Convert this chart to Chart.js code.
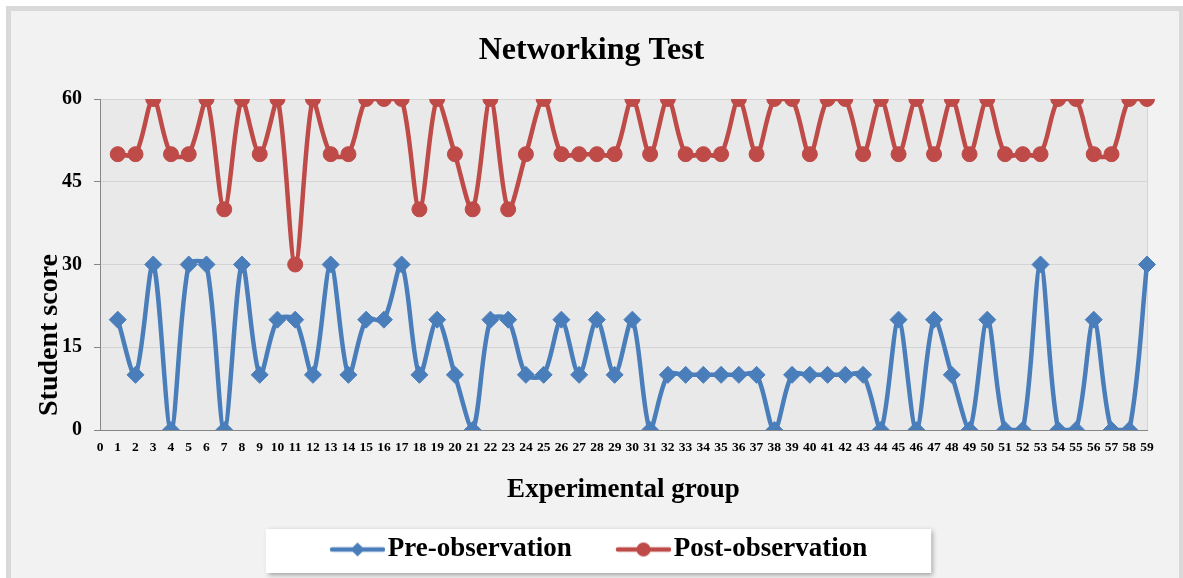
<!DOCTYPE html>
<html>
<head>
<meta charset="utf-8">
<script src="https://cdn.jsdelivr.net/npm/chart.js@4/dist/chart.umd.min.js"></script>
<style>
  html, body { margin: 0; padding: 0; background: #ffffff; }
  #wrap { width: 1183px; height: 578px; }
</style>
</head>
<body>
<div id="wrap"><canvas id="chart" width="1183" height="578"></canvas></div>
<script>
// Networking Test - pre / post observation scores per student

const categories = ['0', '1', '2', '3', '4', '5', '6', '7', '8', '9', '10', '11', '12', '13', '14',
    '15', '16', '17', '18', '19', '20', '21', '22', '23', '24', '25', '26', '27', '28', '29',
    '30', '31', '32', '33', '34', '35', '36', '37', '38', '39', '40', '41', '42', '43', '44',
    '45', '46', '47', '48', '49', '50', '51', '52', '53', '54', '55', '56', '57', '58', '59'];

const preObservation = [null,
    20, 10, 30, 0, 30, 30, 0, 30, 10, 20,
    20, 10, 30, 10, 20, 20, 30, 10, 20, 10,
    0, 20, 20, 10, 10, 20, 10, 20, 10, 20,
    0, 10, 10, 10, 10, 10, 10, 0, 10, 10,
    10, 10, 10, 0, 20, 0, 20, 10, 0, 20,
    0, 0, 30, 0, 0, 20, 0, 0, 30];

const postObservation = [null,
    50, 50, 60, 50, 50, 60, 40, 60, 50, 60,
    30, 60, 50, 50, 60, 60, 60, 40, 60, 50,
    40, 60, 40, 50, 60, 50, 50, 50, 50, 60,
    50, 60, 50, 50, 50, 60, 50, 60, 60, 50,
    60, 60, 50, 60, 50, 60, 50, 60, 50, 60,
    50, 50, 50, 60, 60, 50, 50, 60, 60];

const yTickValues = [0, 15, 30, 45, 60];

const BLUE = '#4A7EBB';
const RED = '#BE4B48';
const SERIF = "'Liberation Serif', 'Times New Roman', serif";

// legend swatch: a line with the marker in its middle (Excel style)
function legendSwatch(color, marker) {
    const c = document.createElement('canvas');
    c.width = 102;
    c.height = 18;
    const g = c.getContext('2d');
    g.strokeStyle = color;
    g.lineWidth = 4.5;
    g.lineCap = 'round';
    g.beginPath();
    g.moveTo(49, 9);
    g.lineTo(100, 9);
    g.stroke();
    g.fillStyle = color;
    g.beginPath();
    if (marker === 'diamond') {
        g.moveTo(74.5, 2);
        g.lineTo(81.5, 9);
        g.lineTo(74.5, 16);
        g.lineTo(67.5, 9);
        g.closePath();
    } else {
        g.arc(74.5, 9, 7, 0, Math.PI * 2);
    }
    g.fill();
    return c;
}

const swatches = [legendSwatch(BLUE, 'diamond'), legendSwatch(RED, 'circle')];

const backgroundPlugin = {
    id: 'excelBackground',
    afterLayout(chart) {
        // the Excel legend sits a little left of the page centre
        const lg = chart.legend;
        if (lg) {
            lg.left -= 11;
            lg.right -= 11;
        }
    },
    beforeDraw(chart) {
        const ctx = chart.ctx;
        const a = chart.chartArea;
        ctx.save();
        ctx.fillStyle = '#ffffff';
        ctx.fillRect(0, 0, chart.width, chart.height);
        ctx.fillStyle = '#d9d9d9';
        ctx.fillRect(6, 6, chart.width - 6, chart.height);
        ctx.fillStyle = '#f2f2f2';
        ctx.fillRect(11, 11, chart.width - 15, chart.height);
        // plot area
        ctx.fillStyle = '#e9e9e9';
        ctx.fillRect(a.left, a.top, a.right - a.left, a.bottom - a.top);
        ctx.strokeStyle = '#d4d4d4';
        ctx.lineWidth = 1;
        ctx.strokeRect(a.left + 0.5, a.top + 0.5, a.right - a.left, a.bottom - a.top);
        // legend box with shadow
        const lg = chart.legend;
        if (lg && lg.legendHitBoxes && lg.legendHitBoxes.length) {
            const hb = lg.legendHitBoxes;
            const last = hb[hb.length - 1];
            const x0 = hb[0].left - 28;
            const x1 = last.left + last.width + 64;
            ctx.shadowColor = 'rgba(0,0,0,0.35)';
            ctx.shadowBlur = 5;
            ctx.shadowOffsetX = 2;
            ctx.shadowOffsetY = 2;
            ctx.fillStyle = '#ffffff';
            ctx.fillRect(x0, lg.top + 1, x1 - x0, lg.bottom - lg.top - 1);
        }
        ctx.restore();
    }
};

new Chart(document.getElementById('chart'), {
    type: 'line',
    data: {
        labels: categories,
        datasets: [{
            label: 'Pre-observation',
            data: preObservation,
            borderColor: BLUE,
            backgroundColor: BLUE,
            borderWidth: 4.5,
            pointStyle: 'rectRot',
            pointRadius: 8.5,
            pointBorderWidth: 1,
            tension: 0.3,
            spanGaps: true
        }, {
            label: 'Post-observation',
            data: postObservation,
            borderColor: RED,
            backgroundColor: RED,
            borderWidth: 4.5,
            pointStyle: 'circle',
            pointRadius: 7.5,
            pointBorderWidth: 1,
            tension: 0.3,
            spanGaps: true
        }]
    },
    options: {
        responsive: false,
        animation: false,
        layout: {
            padding: { top: 32, left: 36, right: 36, bottom: 5 }
        },
        plugins: {
            title: {
                display: true,
                text: 'Networking Test',
                color: '#000000',
                font: { family: SERIF, size: 32, weight: 'bold' },
                padding: { top: 0, bottom: 28.6 }
            },
            legend: {
                position: 'bottom',
                labels: {
                    color: '#000000',
                    font: { family: SERIF, size: 27, weight: 'bold' },
                    usePointStyle: true,
                    pointStyleWidth: 80.5,
                    padding: 8,
                    generateLabels(chart) {
                        const items = Chart.defaults.plugins.legend.labels.generateLabels(chart);
                        items.forEach((it, i) => { it.pointStyle = swatches[i]; });
                        return items;
                    }
                }
            },
            tooltip: { enabled: false }
        },
        scales: {
            x: {
                offset: false,
                grid: { display: false, drawTicks: false },
                border: { display: true, color: '#868686', width: 1 },
                ticks: {
                    autoSkip: false,
                    maxRotation: 0,
                    color: '#000000',
                    padding: 9,
                    font: { family: SERIF, size: 13.5, weight: 'bold' }
                },
                title: {
                    display: true,
                    text: 'Experimental group',
                    color: '#000000',
                    font: { family: SERIF, size: 27, weight: 'bold' },
                    padding: { top: 0, bottom: 21.8 }
                },
                afterFit(scale) { scale.height = 98; }
            },
            y: {
                min: 0,
                max: 60,
                afterBuildTicks(scale) {
                    scale.ticks = yTickValues.map(v => ({ value: v }));
                },
                grid: {
                    color: '#d4d4d4',
                    tickColor: '#868686',
                    tickLength: 6,
                    drawTicks: true
                },
                border: { display: true, color: '#868686', width: 1 },
                ticks: {
                    color: '#000000',
                    padding: 12,
                    font: { family: SERIF, size: 20, weight: 'bold' }
                },
                title: {
                    display: true,
                    text: '  Student score',
                    align: 'start',
                    color: '#000000',
                    font: { family: SERIF, size: 28, weight: 'bold' },
                    padding: { top: -2.8, bottom: 0 }
                },
                afterFit(scale) { scale.width = 64; }
            }
        }
    },
    plugins: [backgroundPlugin]
});
</script>
</body>
</html>
